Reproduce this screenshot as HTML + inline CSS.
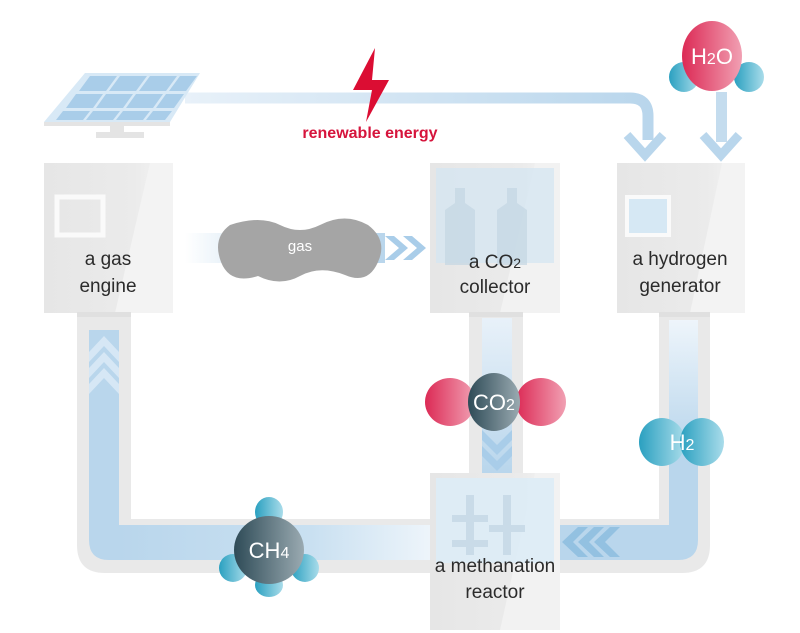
<!DOCTYPE html>
<html><head><meta charset="utf-8"><style>
html,body{margin:0;padding:0;background:#fff;width:800px;height:633px;overflow:hidden}
svg text{font-family:"Liberation Sans",sans-serif}
</style></head><body>
<svg width="800" height="633" viewBox="0 0 800 633" xmlns="http://www.w3.org/2000/svg">
<defs>
<linearGradient id="box" x1="0" y1="0" x2="1" y2="0">
<stop offset="0" stop-color="#e6e6e6"/><stop offset="0.7" stop-color="#ebebeb"/><stop offset="1" stop-color="#f4f4f4"/></linearGradient>
<linearGradient id="gasflow" x1="0" x2="1"><stop offset="0" stop-color="#fff"/><stop offset="0.5" stop-color="#c8dff0"/><stop offset="1" stop-color="#b9d6ec"/></linearGradient>
<linearGradient id="ch4flow" x1="0" x2="1"><stop offset="0" stop-color="#b9d6ec"/><stop offset="0.6" stop-color="#c9e0f1"/><stop offset="1" stop-color="#f0f6fb"/></linearGradient>
<linearGradient id="topflow" x1="0" x2="1"><stop offset="0" stop-color="#e8f1f9"/><stop offset="1" stop-color="#b9d6ec"/></linearGradient>
<linearGradient id="co2flow" x1="0" y1="0" x2="0" y2="1"><stop offset="0" stop-color="#e8f1f9"/><stop offset="1" stop-color="#b9d6ec"/></linearGradient>
<linearGradient id="h2flow" x1="0" y1="0" x2="0" y2="1"><stop offset="0" stop-color="#eef5fb"/><stop offset="1" stop-color="#b9d6ec"/></linearGradient>
<linearGradient id="red" x1="0" x2="1"><stop offset="0" stop-color="#dc2a55"/><stop offset="1" stop-color="#f1a0b3"/></linearGradient>
<linearGradient id="dark" x1="0" x2="1"><stop offset="0" stop-color="#2e4b57"/><stop offset="1" stop-color="#9aaab1"/></linearGradient>
<linearGradient id="blue" x1="0" x2="1"><stop offset="0" stop-color="#2aa0c0"/><stop offset="1" stop-color="#a9dcea"/></linearGradient>
</defs>

<!-- gray loop pipes -->
<path d="M77 312 V545 Q77 573 105 573 H682 Q710 573 710 545 V312 H659 V519 H131 V312 Z" fill="#e9e9e9"/>
<rect x="469" y="312" width="54" height="165" fill="#e9e9e9"/>
<!-- blue loop -->
<path d="M89 330 V540 Q89 560 109 560 H430 V525 H119 V330 Z" fill="#b9d6ec"/>
<rect x="119" y="525" width="320" height="35" fill="url(#ch4flow)"/>
<path d="M560 525 H669 V320 H698 V540 Q698 560 678 560 H560 Z" fill="#b9d6ec"/>
<rect x="669" y="320" width="29" height="130" fill="url(#h2flow)"/>
<rect x="482" y="318" width="30" height="155" fill="url(#co2flow)"/>
<!-- up chevrons -->
<g fill="#d6e7f5">
<path d="M89 352 L104 336 L119 352 V362 L104 346 L89 362Z"/>
<path d="M89 368 L104 352 L119 368 V378 L104 362 L89 378Z"/>
<path d="M89 384 L104 368 L119 384 V394 L104 378 L89 394Z"/>
</g>
<!-- left chevrons -->
<g fill="#8fbfe0" opacity="0.9">
<path d="M562 542 L578 527 H588 L573 542 L588 557 H578Z"/>
<path d="M578 542 L594 527 H604 L589 542 L604 557 H594Z"/>
<path d="M594 542 L610 527 H620 L605 542 L620 557 H610Z"/>
</g>
<!-- down chevrons co2 -->
<g fill="#a9cde9">
<path d="M482 430 L497 445 L512 430 V440 L497 455 L482 440Z"/>
<path d="M482 446 L497 461 L512 446 V456 L497 471 L482 456Z"/>
</g>

<!-- top energy line -->
<path d="M185 98 H630 Q648 98 648 116 V140" stroke="url(#topflow)" stroke-width="11" fill="none"/>
<path d="M627 135 L645 155 L663 135" stroke="#b9d6ec" stroke-width="9" fill="none"/>
<rect x="716" y="92" width="11" height="50" fill="#c4dcee"/>
<path d="M703 135 L721 155 L739 135" stroke="#b9d6ec" stroke-width="9" fill="none"/>

<!-- solar panel -->
<path d="M85 73 H200 L170 122 H44 Z" fill="#d8e9f6"/>
<path d="M44 122 H170 L170 126 H44Z" fill="#e4e4e4"/>
<rect x="110" y="126" width="14" height="8" fill="#e4e4e4"/>
<rect x="96" y="132" width="48" height="6" fill="#e4e4e4"/>
<g fill="#a9cde9">
<path d="M90 76 H117 L106 91 H79Z"/><path d="M120 76 H147 L136 91 H109Z"/><path d="M150 76 H177 L166 91 H139Z"/><path d="M180 76 H197 L186 91 H169Z"/>
<path d="M76 94 H103 L93 108 H66Z"/><path d="M106 94 H133 L123 108 H96Z"/><path d="M136 94 H163 L153 108 H126Z"/><path d="M166 94 H184 L174 108 H156Z"/>
<path d="M63 111 H90 L83 120 H56Z"/><path d="M93 111 H120 L113 120 H86Z"/><path d="M123 111 H150 L143 120 H116Z"/><path d="M153 111 H172 L165 120 H146Z"/>
</g>

<!-- lightning -->
<path d="M375 48 L353 90 H372 L366 122 L389 80 H372 Z" fill="#db0d33"/>
<text x="370" y="138" font-size="16" font-weight="bold" fill="#d6143c" text-anchor="middle">renewable energy</text>

<!-- boxes -->
<g>
<rect x="44" y="163" width="129" height="150" fill="url(#box)"/>
<path d="M150 163 H173 V313 H115 Z" fill="#f3f3f3"/>
<rect x="57" y="197" width="46" height="38" fill="none" stroke="#fafafa" stroke-width="5"/>
<rect x="430" y="163" width="130" height="150" fill="url(#box)"/>
<path d="M535 163 H560 V313 H500 Z" fill="#f2f2f2"/>
<rect x="436" y="168" width="118" height="95" fill="#d6e6f1" opacity="0.8"/>
<path d="M445 230 V210 L455 203 V188 H465 V203 L475 210 V265 H445Z" fill="#c3d6e3" opacity="0.7"/>
<path d="M497 230 V210 L507 203 V188 H517 V203 L527 210 V265 H497Z" fill="#c3d6e3" opacity="0.7"/>
<rect x="617" y="163" width="128" height="150" fill="url(#box)"/>
<path d="M722 163 H745 V313 H690 Z" fill="#f3f3f3"/>
<rect x="627" y="197" width="42" height="38" fill="#d6e8f4" stroke="#fafafa" stroke-width="4"/>
<rect x="430" y="473" width="130" height="157" fill="url(#box)"/>
<path d="M535 473 H560 V630 H500 Z" fill="#f2f2f2"/>
<rect x="436" y="478" width="118" height="85" fill="#ddecf6" opacity="0.9"/>
<g fill="#c9dbe8"><rect x="466" y="495" width="8" height="60"/><rect x="503" y="495" width="8" height="60"/>
<rect x="452" y="515" width="36" height="7"/><rect x="489" y="525" width="36" height="7"/><rect x="452" y="540" width="36" height="7"/></g>
</g>
<rect x="77" y="312" width="54" height="5" fill="#e0e0e0"/>
<rect x="469" y="312" width="54" height="5" fill="#e0e0e0"/>
<rect x="659" y="312" width="51" height="5" fill="#e0e0e0"/>

<!-- gas flow -->
<rect x="185" y="233" width="200" height="30" fill="url(#gasflow)"/>
<g fill="#a9cde9">
<path d="M385 236 L399 248 L385 260 H394 L408 248 L394 236Z"/>
<path d="M403 236 L417 248 L403 260 H412 L426 248 L412 236Z"/>
</g>
<path d="M230 225 Q260 215 280 225 Q300 235 320 225 Q345 212 368 225 Q388 240 378 262 Q368 285 345 275 Q320 265 300 276 Q280 287 258 276 Q230 285 221 262 Q212 238 230 225Z" fill="#a5a5a5"/>
<text x="300" y="251" font-size="15" fill="#fff" text-anchor="middle">gas</text>

<g font-size="19" fill="#2b2b2b" text-anchor="middle">
<text x="108" y="265">a gas</text><text x="108" y="292">engine</text>
<text x="495" y="268">a CO<tspan font-size="14">2</tspan></text><text x="495" y="293">collector</text>
<text x="680" y="265">a hydrogen</text><text x="680" y="292">generator</text>
<text x="495" y="572">a methanation</text><text x="495" y="598">reactor</text>
</g>

<!-- H2O -->
<circle cx="684" cy="77" r="15" fill="url(#blue)"/>
<circle cx="749" cy="77" r="15" fill="url(#blue)"/>
<ellipse cx="712" cy="56" rx="30" ry="35" fill="url(#red)"/>
<text x="712" y="64" font-size="22" fill="#fff" text-anchor="middle">H<tspan font-size="16">2</tspan>O</text>

<!-- CO2 -->
<ellipse cx="450" cy="402" rx="25" ry="24" fill="url(#red)"/>
<ellipse cx="541" cy="402" rx="25" ry="24" fill="url(#red)"/>
<ellipse cx="494" cy="402" rx="26" ry="29" fill="url(#dark)"/>
<text x="494" y="410" font-size="22" fill="#fff" text-anchor="middle">CO<tspan font-size="16">2</tspan></text>

<!-- H2 -->
<ellipse cx="662" cy="442" rx="23" ry="24" fill="url(#blue)"/>
<ellipse cx="702" cy="442" rx="22" ry="24" fill="url(#blue)"/>
<text x="682" y="450" font-size="22" fill="#fff" text-anchor="middle">H<tspan font-size="16">2</tspan></text>

<!-- CH4 -->
<ellipse cx="269" cy="512" rx="14" ry="15" fill="url(#blue)"/>
<ellipse cx="233" cy="568" rx="14" ry="14" fill="url(#blue)"/>
<ellipse cx="305" cy="568" rx="14" ry="14" fill="url(#blue)"/>
<ellipse cx="269" cy="585" rx="14" ry="12" fill="url(#blue)"/>
<ellipse cx="269" cy="550" rx="35" ry="34" fill="url(#dark)"/>
<text x="269" y="558" font-size="22" fill="#fff" text-anchor="middle">CH<tspan font-size="16">4</tspan></text>
</svg>
</body></html>
